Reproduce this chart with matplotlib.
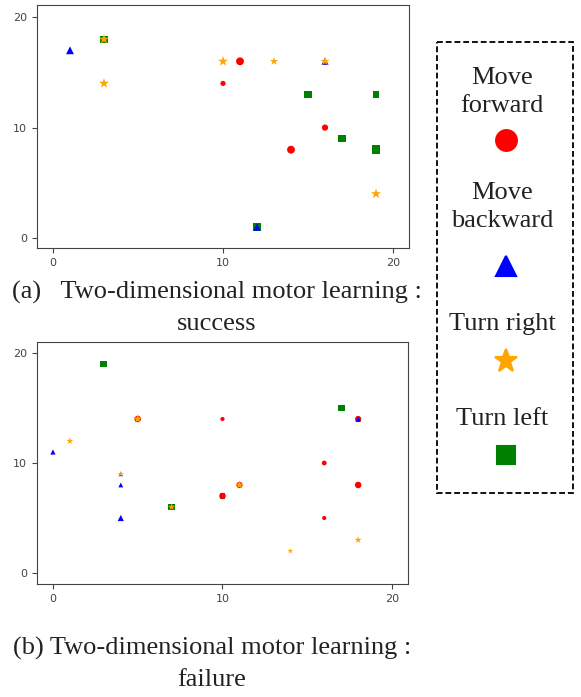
import matplotlib
matplotlib.use('Agg')
import matplotlib.pyplot as plt
from matplotlib.patches import Rectangle

# category names and colours
labels = ['Move\nforward', 'Move\nbackward', 'Turn right', 'Turn left']
colors = ['#ff0000', '#0000ff', '#ffa500', '#008000']
markers = ['o', '^', '*', 's']

# (a) success
fwd_a_x = [11, 10, 16, 14]
fwd_a_y = [16, 14, 10, 8]
fwd_a_s = [32, 14, 20, 32]
back_a_x = [1, 12, 16]
back_a_y = [17, 1, 16]
back_a_s = [32, 28, 26]
right_a_x = [3, 3, 10, 13, 16, 19]
right_a_y = [18, 14, 16, 16, 16, 4]
right_a_s = [60, 60, 60, 40, 48, 60]
left_a_x = [3, 15, 19, 17, 19, 12, 16]
left_a_y = [18, 13, 13, 9, 8, 1, 10]
left_a_s = [26, 30, 20, 30, 40, 30, 12]

# (b) failure
fwd_b_x = [10, 16, 18, 16, 18, 5, 11, 10]
fwd_b_y = [14, 10, 8, 5, 14, 14, 8, 7]
fwd_b_s = [9, 12, 22, 9, 20, 22, 20, 22]
back_b_x = [0, 4, 4, 18, 4]
back_b_y = [11, 8, 5, 14, 9]
back_b_s = [14, 12, 20, 16, 10]
right_b_x = [1, 4, 14, 18, 5, 11, 7]
right_b_y = [12, 9, 2, 3, 14, 8, 6]
right_b_s = [28, 22, 18, 28, 45, 45, 28]
left_b_x = [3, 17, 7, 10]
left_b_y = [19, 15, 6, 7]
left_b_s = [24, 24, 24, 14]

panels = [
    ([fwd_a_x, back_a_x, right_a_x, left_a_x],
     [fwd_a_y, back_a_y, right_a_y, left_a_y],
     [fwd_a_s, back_a_s, right_a_s, left_a_s]),
    ([fwd_b_x, back_b_x, right_b_x, left_b_x],
     [fwd_b_y, back_b_y, right_b_y, left_b_y],
     [fwd_b_s, back_b_s, right_b_s, left_b_s]),
]
captions = ['(a)   Two-dimensional motor learning :\nsuccess',
            '(b) Two-dimensional motor learning :\nfailure']

W, H = 581, 697
fig = plt.figure(figsize=(W / 100, H / 100), dpi=100)

axes_px = [(37, 5, 409, 248), (37, 342, 408, 584)]
ylims = [(-0.9, 21.1), (-1.0, 21.0)]
draw_order = [3, 0, 1, 2]  # squares first, stars on top

for (x0, y0, x1, y1), ylim, (xs, ys, ss) in zip(axes_px, ylims, panels):
    ax = fig.add_axes([x0 / W, 1 - y1 / H, (x1 - x0) / W, (y1 - y0) / H])
    for i in draw_order:
        ax.scatter(xs[i], ys[i], s=ss[i], c=colors[i], marker=markers[i],
                   linewidths=0)
    ax.set_xlim(-0.94, 20.94)
    ax.set_ylim(*ylim)
    ax.set_xticks([0, 10, 20])
    ax.set_yticks([0, 10, 20])
    ax.tick_params(labelsize=8, colors='#444444', length=3.5)
    for sp in ax.spines.values():
        sp.set_color('#444444')

# overlay in pixel coordinates for captions and the legend box
lax = fig.add_axes([0, 0, 1, 1])
lax.set_xlim(0, W)
lax.set_ylim(H, 0)
lax.axis('off')

serif = 'Liberation Serif'
lax.text(217, 308, captions[0], ha='center', va='center', fontsize=19,
         family=serif, color='#222222', linespacing=1.48)
lax.text(212, 664, captions[1], ha='center', va='center', fontsize=19,
         family=serif, color='#222222', linespacing=1.48)

lax.add_patch(Rectangle((437, 42), 136, 451, fill=False, edgecolor='#111111',
                        linewidth=1.4, linestyle=(0, (3, 1.5))))

label_y = [92, 207, 324, 419]
marker_y = [140, 266, 361, 455]
marker_ms = [15, 15, 17, 13.5]
for lab, col, mk, ly, my, ms in zip(labels, colors, markers, label_y,
                                    marker_y, marker_ms):
    lax.text(502, ly, lab, ha='center', va='center', fontsize=19,
             family=serif, color='#222222', linespacing=1.38)
    lax.plot([506], [my], marker=mk, color=col, markersize=ms,
             markeredgewidth=1.5, markeredgecolor=col,
             markerfacecolor=col)

fig.savefig('out.png', dpi=100)
